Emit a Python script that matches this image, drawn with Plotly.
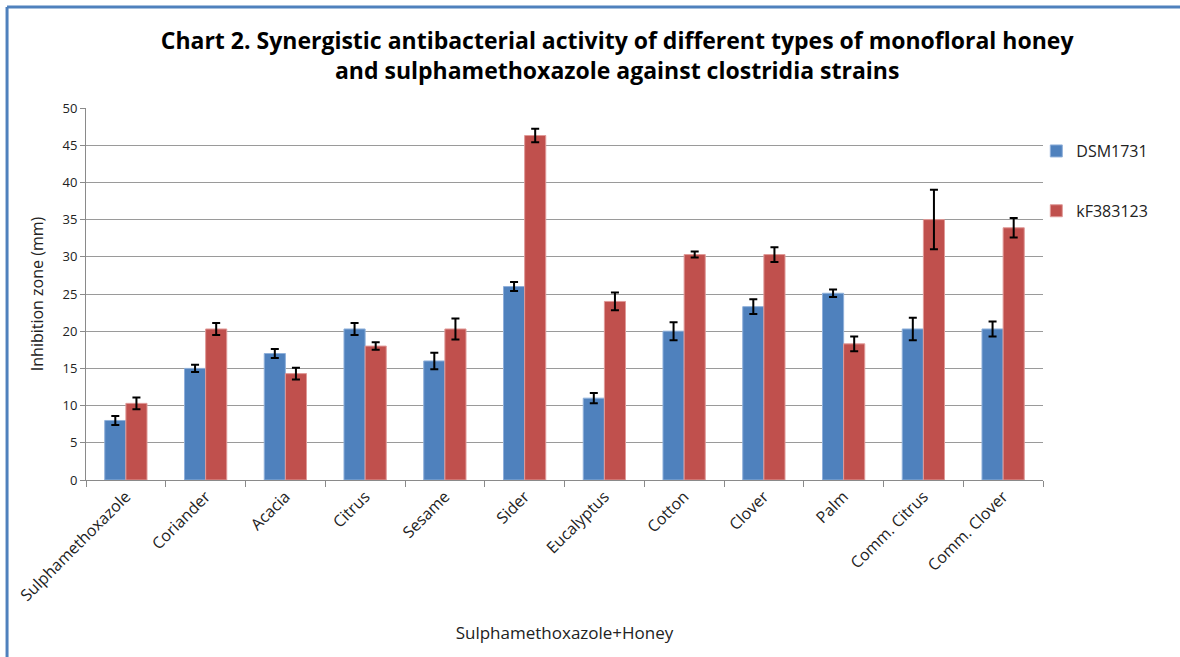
import plotly.graph_objects as go

categories = ['Sulphamethoxazole', 'Coriander', 'Acacia', 'Citrus', 'Sesame', 'Sider',
              'Eucalyptus', 'Cotton', 'Clover', 'Palm', 'Comm. Citrus', 'Comm. Clover']
dsm1731 = [8.0, 15.0, 17.0, 20.3, 16.0, 26.0, 11.0, 20.0, 23.3, 25.1, 20.3, 20.3]
dsm1731_err = [0.6, 0.5, 0.6, 0.8, 1.1, 0.6, 0.7, 1.2, 1.0, 0.5, 1.5, 1.0]
kf383123 = [10.3, 20.3, 14.3, 18.0, 20.3, 46.3, 24.0, 30.3, 30.3, 18.3, 35.0, 33.9]
kf383123_err = [0.8, 0.8, 0.8, 0.5, 1.4, 0.9, 1.2, 0.4, 1.0, 1.0, 4.0, 1.3]
y_ticks = list(range(0, 51, 5))

title = ('Chart 2. Synergistic antibacterial activity of different types of monofloral honey'
         '<br>and sulphamethoxazole against clostridia strains')

font_main = 'Open Sans'

fig = go.Figure()
fig.add_trace(go.Bar(
    x=categories, y=dsm1731, name='DSM1731', legendgroup='a',
    marker=dict(color='#4F81BD', line=dict(color='#8FB0DA', width=1)),
    error_y=dict(type='data', array=dsm1731_err, color='black', thickness=2, width=4),
))
fig.add_trace(go.Bar(
    x=categories, y=kf383123, name='kF383123', legendgroup='b',
    marker=dict(color='#C0504D', line=dict(color='#E09A98', width=1)),
    error_y=dict(type='data', array=kf383123_err, color='black', thickness=2, width=4),
))

fig.update_layout(
    width=1180, height=657,
    paper_bgcolor='white', plot_bgcolor='white',
    margin=dict(l=86, r=137, t=108, b=177),
    barmode='group', bargap=0.47, bargroupgap=0,
    font=dict(family=font_main, color='#222'),
    title=dict(text=title, x=0.523, xanchor='center', xref='container', y=0.925, yanchor='top',
               font=dict(family=font_main, size=23, color='black', weight='bold')),
    legend=dict(x=0.993, y=0.93, xanchor='left', yanchor='top',
                font=dict(size=16, color='#222'), tracegroupgap=36,
                itemwidth=30, bgcolor='rgba(0,0,0,0)'),
    showlegend=True,
)

fig.update_yaxes(
    range=[0, 50], tickvals=y_ticks, showgrid=True, gridcolor='#9A9A9A', gridwidth=1,
    showline=True, linecolor='#8A8A8A', linewidth=1, ticks='outside', ticklen=5,
    tickcolor='#8A8A8A', tickfont=dict(size=13, color='#222'), zeroline=False,
    title=dict(text='Inhibition zone (mm)', font=dict(size=16, color='#222'), standoff=14),
)
fig.update_xaxes(
    showline=True, linecolor='#8A8A8A', linewidth=1, ticks='outside', ticklen=6,
    tickcolor='#8A8A8A', tickson='boundaries', tickangle=-45,
    tickfont=dict(size=16, color='#222'),
    title=dict(text='Sulphamethoxazole+Honey', font=dict(size=17, color='#222'), standoff=22),
)

# chart frame border (left and top edges visible)
fig.add_shape(type='line', xref='paper', yref='paper', x0=-0.0825, x1=-0.0825, y0=-0.5, y1=1.2715,
              line=dict(color='#4F81BD', width=3))
fig.add_shape(type='line', xref='paper', yref='paper', x0=-0.0825, x1=1.2, y0=1.2715, y1=1.2715,
              line=dict(color='#4F81BD', width=3))

fig.write_html('out.html', config={'displayModeBar': False},
               post_script="document.body.style.margin='0';")
